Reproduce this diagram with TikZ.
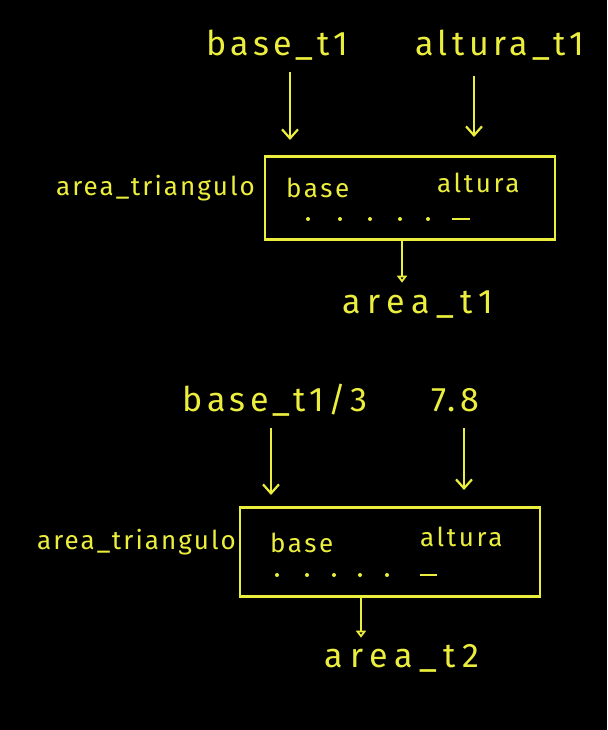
\documentclass[tikz,border=0pt]{standalone}
\usepackage{fontspec}
\setmainfont{Fira Sans}
\usetikzlibrary{arrows.meta}
\definecolor{ink}{RGB}{236,238,62}
\tikzset{
  lbl/.style={text=ink, inner sep=0pt, font=\fontsize{34}{38}\selectfont\addfontfeature{LetterSpace=13}},
  res/.style={text=ink, inner sep=0pt, font=\fontsize{34}{38}\selectfont\addfontfeature{LetterSpace=20}},
  side/.style={text=ink, inner sep=0pt, font=\fontsize{26}{30}\selectfont\addfontfeature{LetterSpace=8}},
  inner/.style={text=ink, inner sep=0pt, font=\fontsize{26}{30}\selectfont\addfontfeature{LetterSpace=10}},
  fbox/.style={draw=ink, line width=2.4pt, rectangle, inner sep=0pt},
  arr/.style={draw=ink, line width=2.2pt, -{Straight Barb[length=9pt,width=16pt,line width=2.2pt]}},
  sarr/.style={draw=ink, line width=2.2pt, -{Triangle[open,length=7pt,width=10pt,line width=2pt]}},
}
\begin{document}
\begin{tikzpicture}[x=1pt,y=-1pt]
\fill[black] (0,0) rectangle (607,730);
\useasboundingbox (0,0) rectangle (607,730);

% ---- top diagram ----
\node[lbl] (bt1) at (277,45) {base\_t1};
\node[lbl] (at1) at (500,45) {altura\_t1};
\node[fbox, minimum width=290pt, minimum height=83pt] (box1) at (410,198) {};
\node[side, anchor=east] (lab1) at (255,188) {area\_triangulo};
\node[inner, anchor=west] (b1) at (286,188) {base};
\node[inner, anchor=west] (h1) at (437,183) {altura};
\foreach \x in {308,340,370,400,428} \fill[ink] (\x,219) circle (2pt);
\draw[ink, line width=2.2pt] (452,219) -- (470,219);
\node[res] (r1) at (418,305) {area\_t1};
\coordinate (e1) at (290,140);
\coordinate (e2) at (474,137);
\draw[arr] (bt1.south -| e1) ++(0,12) -- (e1);
\draw[arr] (at1.south -| e2) ++(0,16) -- (e2);
\draw[sarr] (box1.south -| 402,0) -- ++(0,42);

% ---- bottom diagram ----
\node[lbl] (bt2) at (275,400) {base\_t1/3};
\node[lbl] (h7) at (455,400) {7.8};
\node[fbox, minimum width=300pt, minimum height=89pt] (box2) at (390,552) {};
\node[side, anchor=east] (lab2) at (236,542) {area\_triangulo};
\node[inner, anchor=west] (b2) at (270,543) {base};
\node[inner, anchor=west] (h2) at (420,537) {altura};
\foreach \x in {277,307,334,360,387} \fill[ink] (\x,575) circle (2pt);
\draw[ink, line width=2.2pt] (420,575) -- (437,575);
\node[res] (r2) at (402,658) {area\_t2};
\coordinate (e3) at (271,495);
\coordinate (e4) at (464,490);
\draw[arr] (bt2.south -| e3) ++(0,12) -- (e3);
\draw[arr] (h7.south -| e4) ++(0,16) -- (e4);
\draw[sarr] (box2.south -| 361,0) -- ++(0,40);
\end{tikzpicture}
\end{document}
